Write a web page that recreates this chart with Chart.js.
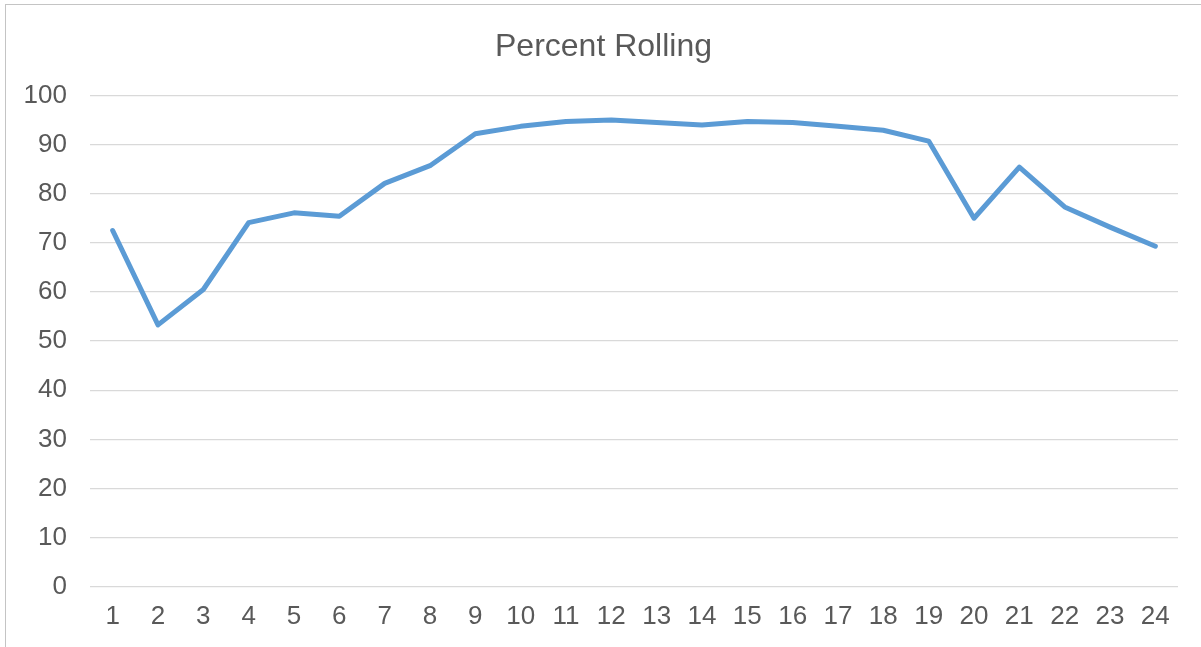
<!DOCTYPE html>
<html>
<head>
<meta charset="utf-8">
<script src="https://cdn.jsdelivr.net/npm/chart.js@4/dist/chart.umd.min.js"></script>
<style>
  html, body { margin: 0; padding: 0; background: #fff; }
  #wrap { position: relative; width: 1201px; height: 647px; overflow: hidden; }
  #frame { position: absolute; left: 5px; top: 4px; width: 1300px; height: 700px;
           border-top: 1px solid #c4c4c4; border-left: 1px solid #c4c4c4; }
  canvas { position: absolute; left: 0; top: 0; }
</style>
</head>
<body>
<div id="wrap">
  <div id="frame"></div>
  <canvas id="myChart" width="1201" height="647"></canvas>
</div>
<script>
const TITLE = 'Percent Rolling';
const categories = ['1', '2', '3', '4', '5', '6', '7', '8', '9', '10', '11', '12',
  '13', '14', '15', '16', '17', '18', '19', '20', '21', '22', '23', '24'];
const percentRolling = [72.5, 53.3, 60.5, 74.1, 76.1, 75.4, 82.1, 85.7, 92.2, 93.7, 94.7, 95.0,
  94.5, 94.0, 94.7, 94.5, 93.7, 92.9, 90.7, 75.0, 85.4, 77.3, 73.2, 69.3];
const yTicks = [0, 10, 20, 30, 40, 50, 60, 70, 80, 90, 100];

(() => {
  'use strict';

  const FONT = "'Liberation Sans', Arial, sans-serif";
  const GREY = '#595959';

  const createLineChart = (DOMID) => {
    const ctx = document.getElementById(DOMID).getContext('2d');
    new Chart(ctx, {
      type: 'line',
      data: {
        labels: categories,
        datasets: [{
          label: TITLE,
          data: percentRolling,
          borderColor: '#5b9bd5',
          backgroundColor: '#5b9bd5',
          borderWidth: 5,
          borderJoinStyle: 'round',
          borderCapStyle: 'round',
          pointRadius: 0,
          tension: 0,
          fill: false
        }]
      },
      options: {
        responsive: false,
        animation: false,
        layout: { padding: { left: 6, right: 0, top: 0, bottom: 1 } },
        plugins: {
          legend: { display: false },
          tooltip: { enabled: false },
          title: {
            display: true,
            text: TITLE,
            color: GREY,
            font: { family: FONT, size: 32, weight: 'normal' },
            padding: { top: 28, bottom: 29 }
          }
        },
        scales: {
          x: {
            offset: true,
            grid: { display: false, drawTicks: false },
            border: { display: false },
            ticks: {
              color: GREY,
              font: { family: FONT, size: 26 },
              padding: 14,
              maxRotation: 0,
              autoSkip: false
            }
          },
          y: {
            min: 0,
            max: 100,
            afterFit: scale => { scale.width = 84; },
            afterBuildTicks: scale => { scale.ticks = yTicks.map(v => ({value: v})); },
            grid: { color: '#d9d9d9', lineWidth: 1.3, drawTicks: false },
            border: { display: false },
            ticks: {
              color: GREY,
              font: { family: FONT, size: 26 },
              padding: 23
            }
          },
          // empty right-hand axis, only keeps the plot off the right edge
          yRight: {
            position: 'right',
            min: 0,
            max: 100,
            afterFit: scale => { scale.width = 23; },
            grid: { display: false, drawTicks: false },
            border: { display: false },
            ticks: { display: false }
          }
        }
      }
    });
  };

  createLineChart('myChart');
})();
</script>
</body>
</html>
